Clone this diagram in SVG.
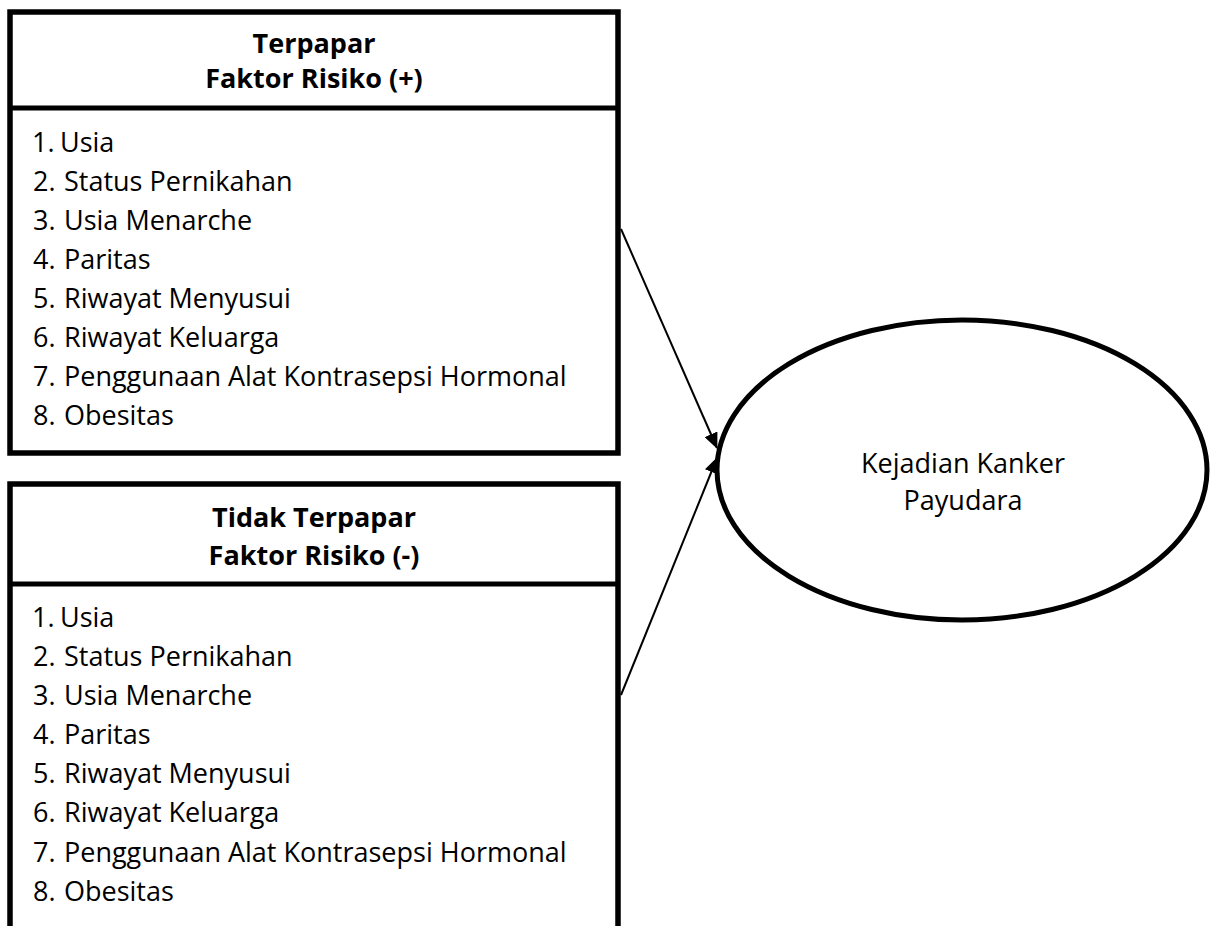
<svg xmlns="http://www.w3.org/2000/svg" width="1219" height="926" viewBox="0 0 1219 926">
<style>
.box{fill:#fff;stroke:#000;stroke-width:5.5}
.div{stroke:#000;stroke-width:5}
.hd{font-family:"Open Sans","Liberation Sans",sans-serif;font-weight:bold;font-size:27px;text-anchor:middle;fill:#000}
.it{font-family:"Open Sans","Liberation Sans",sans-serif;font-size:27px;fill:#000}
.lbl{font-family:"Open Sans","Liberation Sans",sans-serif;font-size:27px;text-anchor:middle;fill:#000}
.con{stroke:#000;stroke-width:2;fill:none}
</style>
<defs>
<marker id="ah" markerUnits="userSpaceOnUse" markerWidth="16" markerHeight="14" refX="15" refY="7" orient="auto">
<path d="M0,0 L16,7 L0,14 Z" fill="#000"/>
</marker>
</defs>
<rect width="1219" height="926" fill="#fff"/>
<g id="node-terpapar">
<rect class="box" x="10" y="12" width="608" height="441"/>
<line class="div" x1="10" y1="108" x2="618" y2="108"/>
<text class="hd" x="314" y="53">Terpapar</text>
<text class="hd" x="314" y="88">Faktor Risiko (+)</text>
<text class="it" x="32" y="152">1.</text><text class="it" x="60" y="152">Usia</text>
<text class="it" x="33" y="191">2.</text><text class="it" x="64" y="191">Status Pernikahan</text>
<text class="it" x="33" y="230">3.</text><text class="it" x="64" y="230">Usia Menarche</text>
<text class="it" x="33" y="269">4.</text><text class="it" x="64" y="269">Paritas</text>
<text class="it" x="33" y="308">5.</text><text class="it" x="64" y="308">Riwayat Menyusui</text>
<text class="it" x="33" y="347">6.</text><text class="it" x="64" y="347">Riwayat Keluarga</text>
<text class="it" x="33" y="386">7.</text><text class="it" x="64" y="386">Penggunaan Alat Kontrasepsi Hormonal</text>
<text class="it" x="33" y="425">8.</text><text class="it" x="64" y="425">Obesitas</text>
</g>
<g id="node-tidak-terpapar">
<path class="box" d="M10,935 L10,484 L618,484 L618,935"/>
<line class="div" x1="10" y1="584" x2="618" y2="584"/>
<text class="hd" x="314" y="527">Tidak Terpapar</text>
<text class="hd" x="314" y="565">Faktor Risiko (-)</text>
<text class="it" x="32" y="627">1.</text><text class="it" x="60" y="627">Usia</text>
<text class="it" x="33" y="666">2.</text><text class="it" x="64" y="666">Status Pernikahan</text>
<text class="it" x="33" y="705">3.</text><text class="it" x="64" y="705">Usia Menarche</text>
<text class="it" x="33" y="744">4.</text><text class="it" x="64" y="744">Paritas</text>
<text class="it" x="33" y="783">5.</text><text class="it" x="64" y="783">Riwayat Menyusui</text>
<text class="it" x="33" y="822">6.</text><text class="it" x="64" y="822">Riwayat Keluarga</text>
<text class="it" x="33" y="862">7.</text><text class="it" x="64" y="862">Penggunaan Alat Kontrasepsi Hormonal</text>
<text class="it" x="33" y="901">8.</text><text class="it" x="64" y="901">Obesitas</text>
</g>
<g id="node-kejadian">
<ellipse cx="962" cy="470" rx="245" ry="150" fill="#fff" stroke="#000" stroke-width="5"/>
<text class="lbl" x="963" y="473">Kejadian Kanker</text>
<text class="lbl" x="963" y="510">Payudara</text>
</g>
<g id="connectors">
<line class="con" x1="621" y1="229" x2="717" y2="448" marker-end="url(#ah)"/>
<line class="con" x1="621" y1="695" x2="717" y2="458" marker-end="url(#ah)"/>
</g>
</svg>
